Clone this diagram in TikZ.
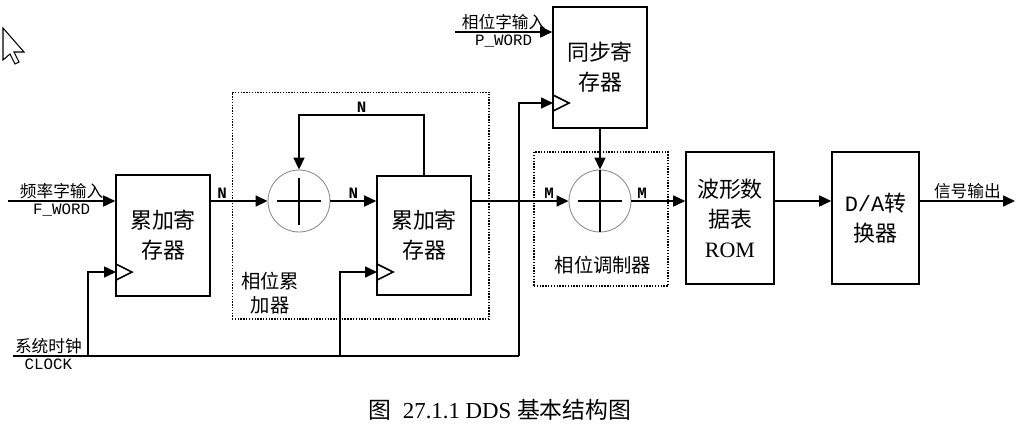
\documentclass[tikz,border=0pt]{standalone}
\usepackage{fontspec}
\setmainfont{Liberation Serif}
\setmonofont{Liberation Mono}
\newfontfamily\cjk{Noto Sans CJK SC}
\usetikzlibrary{arrows.meta}

\begin{document}
\begin{tikzpicture}[
  x={(0.02cm,0)},
  y={(0,-0.02cm)},
  >={Triangle[length=2.4mm,width=2.2mm]},
  line width=0.9pt,
  every node/.style={font=\cjk\fontsize{9.5}{11}\selectfont,inner sep=1pt},
  reg box/.style={rectangle,draw,minimum width=1.88cm,minimum height=2.42cm,align=center,
    font=\cjk\fontsize{12.5}{17}\selectfont},
  adder/.style={circle,draw=black!45,line width=0.5pt,minimum size=1.24cm,
    path picture={\draw[black,line width=0.9pt]
      ([xshift=-0.44cm]path picture bounding box.center) -- ([xshift=0.44cm]path picture bounding box.center)
      ([yshift=-0.47cm]path picture bounding box.center) -- ([yshift=0.47cm]path picture bounding box.center);}},
  group box/.style={rectangle,draw,line width=0.6pt,dash pattern=on 0.8pt off 0.8pt},
  group label/.style={align=center,font=\cjk\fontsize{11}{14}\selectfont},
  bus label/.style={font=\ttfamily\bfseries\fontsize{9}{10}\selectfont},
  word label/.style={font=\ttfamily\fontsize{9}{10}\selectfont},
]
\useasboundingbox (0,0) rectangle (1024,424);

% mouse pointer
\draw[fill=white,line width=0.6pt] (3,28) -- (3,60) -- (10,54) -- (15,64) -- (19,62) -- (14,52) -- (24,52) -- cycle;

% dashed groups
\node[group box,minimum width=5.14cm,minimum height=4.54cm] (accgrp) at (360.5,205.5) {};
\node[group box,minimum width=2.68cm,minimum height=2.68cm] (modgrp) at (601,219) {};
\node[group label] (acclbl) at (270,293) {相位累\\加器};
\node[group label] (modlbl) at (603,265) {相位调制器};

% blocks
\node[reg box] (acc1) at (163,235.5) {累加寄\\存器};
\node[adder] (add1) at (299,201) {};
\node[reg box,minimum height=2.38cm] (acc2) at (424,235.5) {累加寄\\存器};
\node[reg box] (sync) at (600,67.5) {同步寄\\存器};
\node[adder] (add2) at (600,201) {};
\node[reg box,minimum width=1.76cm,minimum height=2.64cm] (rom) at (730,218) {波形数\\据表\\{\rmfamily ROM}};
\node[reg box,minimum width=1.74cm,minimum height=2.64cm] (dac) at (875.5,218) {{\ttfamily D/A}转\\换器};

% free ends
\coordinate (fin) at (8,201);
\coordinate (pin) at (455,32);
\coordinate (fout) at (1015,201);
\coordinate (clkin) at (13,356);
\coordinate (tap1) at (88,356);
\coordinate (tap2) at (340,356);
\coordinate (tap3) at (519,356);
\coordinate (clk1) at (116,272);
\coordinate (clk2) at (377,272);
\coordinate (clk3) at (553,103);

% clock marks
\draw (clk1) ++(0,-8) -- ++(16,8) -- ++(-16,8);
\draw (clk2) ++(0,-8) -- ++(16,8) -- ++(-16,8);
\draw (clk3) ++(0,-8) -- ++(16,8) -- ++(-16,8);

% data path
\draw[->] (fin) -- node[above]{频率字输入} node[below,word label]{F\_WORD} (fin -| acc1.west);
\draw[->] (acc1.east |- add1) -- node[bus label,above,pos=0.2]{N} (add1.west);
\draw[->] (add1) -- node[bus label,above]{N} (add1 -| acc2.west);
\draw[->] (acc2.north) -- ++(0,-60) -| node[bus label,above,pos=0.25]{N} (add1.north);
\draw[->] (acc2.east |- add2) -- node[bus label,above,pos=0.8]{M} (add2.west);
\draw[->] (pin) -- node[above]{相位字输入} node[below,word label]{P\_WORD} (pin -| sync.west);
\draw[->] (sync) -- (add2.north);
\draw (add2.north) -- (add2.south);
\draw[->] (add2.east) -- node[bus label,above,pos=0.2]{M} (add2 -| rom.west);
\draw[->] (rom.east |- add2) -- (dac.west |- add2);
\draw[->] (dac.east |- fout) -- node[above]{信号输出} (fout);

% clock
\draw (clkin) -- node[above,pos=0.07]{系统时钟} node[below,pos=0.07,word label]{CLOCK} (tap3);
\draw[->] (tap1) |- (clk1);
\draw[->] (tap2) |- (clk2);
\draw[->] (tap3) |- (clk3);

% caption
\node[font=\fontsize{13}{15}\selectfont] (caption) at (500,410) {{\cjk 图}\ \ 27.1.1 DDS {\cjk 基本结构图}};
\end{tikzpicture}
\end{document}
